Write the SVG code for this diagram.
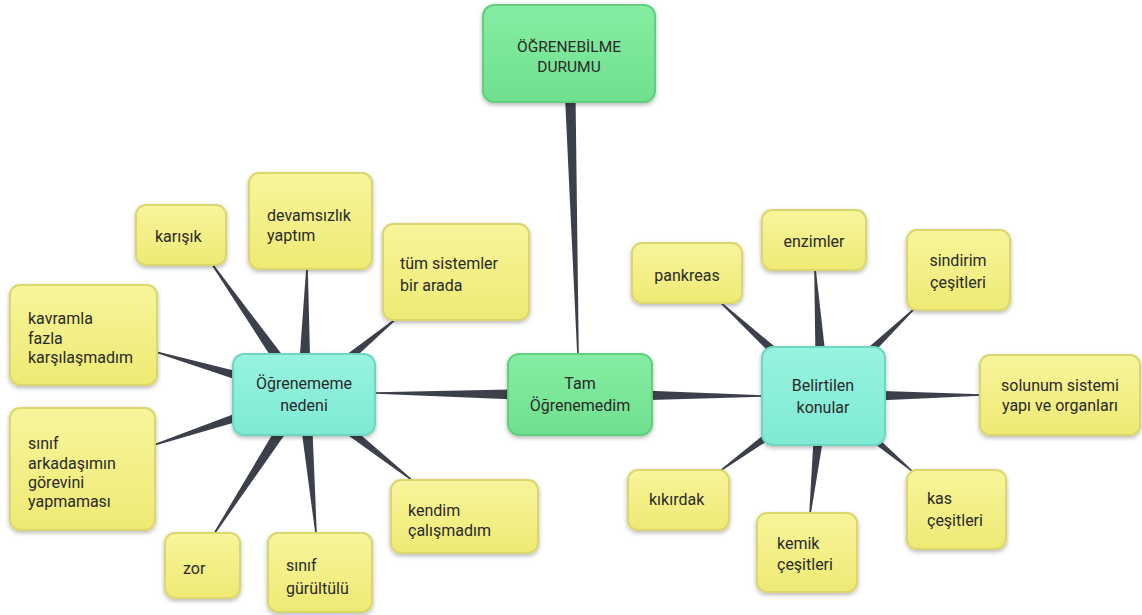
<svg xmlns="http://www.w3.org/2000/svg" width="1142" height="615" viewBox="0 0 1142 615">
  <defs>
    <filter id="shadow" x="-20%" y="-20%" width="140%" height="150%">
      <feDropShadow dx="0" dy="2" stdDeviation="2" flood-color="#000" flood-opacity="0.28"/>
    </filter>
    <linearGradient id="gYellow" x1="0" y1="0" x2="0" y2="1">
      <stop offset="0" stop-color="#f7f59b"/>
      <stop offset="1" stop-color="#eeea74"/>
    </linearGradient>
    <linearGradient id="gGreen" x1="0" y1="0" x2="0" y2="1">
      <stop offset="0" stop-color="#86eda2"/>
      <stop offset="1" stop-color="#6fe08e"/>
    </linearGradient>
    <linearGradient id="gTeal" x1="0" y1="0" x2="0" y2="1">
      <stop offset="0" stop-color="#97f3e0"/>
      <stop offset="1" stop-color="#7fead4"/>
    </linearGradient>
    <style>
      .leaf { fill: url(#gYellow); stroke: #dbd76c; stroke-width: 2; filter: url(#shadow); }
      .root { fill: url(#gGreen); stroke: #5fd07d; stroke-width: 2; filter: url(#shadow); }
      .hub { fill: url(#gTeal); stroke: #6cd8c2; stroke-width: 2; filter: url(#shadow); }
      .wedge { fill: #3c404b; }
      text { font-family: Roboto, "Liberation Sans", sans-serif; font-size: 16px; fill: #2a2a2a; }
      .c { text-anchor: middle; }
      .title { font-size: 15.5px; }
    </style>
  </defs>
  <rect width="1142" height="615" fill="#ffffff"/>

  <!-- tapered connectors: wide at the parent, thin at the child -->
  <g id="connectors">
    <polygon class="wedge" points="563,54.2 577.2,355 578.8,355 575,53.8"/>
    <polygon class="wedge" points="580,388 376,392.2 376,393.8 580,402"/>
    <polygon class="wedge" points="580,388 763,395.2 763,396.8 580,402"/>

    <polygon class="wedge" points="309.7,391.0 212.7,263.5 211.3,264.5 298.3,399.0"/>
    <polygon class="wedge" points="311,395.2 307.8,268 306.2,268 297,394.8"/>
    <polygon class="wedge" points="308.5,400.4 397.5,318.6 396.5,317.4 299.5,389.6"/>
    <polygon class="wedge" points="306.0,388.3 156.2,351.2 155.8,352.8 302.0,401.7"/>
    <polygon class="wedge" points="301.8,388.4 153.7,444.2 154.3,445.8 306.2,401.6"/>
    <polygon class="wedge" points="298.1,391.2 213.3,533.6 214.7,534.4 309.9,398.8"/>
    <polygon class="wedge" points="297.0,395.6 315.2,533.1 316.8,532.9 311.0,394.4"/>
    <polygon class="wedge" points="299.7,400.5 412.5,481.6 413.5,480.4 308.3,389.5"/>

    <polygon class="wedge" points="827.7,390.8 720.5,301.4 719.5,302.6 818.3,401.2"/>
    <polygon class="wedge" points="830.0,395.6 815.8,268.9 814.2,269.1 816.0,396.4"/>
    <polygon class="wedge" points="827.8,401.1 914.6,309.6 913.4,308.4 818.2,390.9"/>
    <polygon class="wedge" points="823,403 981,395.8 981,394.2 823,389"/>
    <polygon class="wedge" points="818.9,390.3 719.5,470.4 720.5,471.6 827.1,401.7"/>
    <polygon class="wedge" points="816.0,395.2 809.2,513.9 810.8,514.1 830.0,396.8"/>
    <polygon class="wedge" points="818.5,401.4 911.5,471.6 912.5,470.4 827.5,390.7"/>
  </g>

  <!-- root -->
  <g id="ogrenebilme-durumu">
    <rect class="root" x="483" y="5" width="172" height="97" rx="11"/>
    <text class="c title" x="569" y="52">ÖĞRENEBİLME</text>
    <text class="c title" x="569" y="72">DURUMU</text>
  </g>

  <!-- hubs -->
  <g id="tam-ogrenemedim">
    <rect class="root" x="508" y="354" width="144" height="81" rx="11"/>
    <text class="c" x="580" y="389">Tam</text>
    <text class="c" x="580" y="411">Öğrenemedim</text>
  </g>
  <g id="ogrenememe-nedeni">
    <rect class="hub" x="233" y="354" width="142" height="81" rx="11"/>
    <text class="c" x="304" y="389">Öğrenememe</text>
    <text class="c" x="304" y="411">nedeni</text>
  </g>
  <g id="belirtilen-konular">
    <rect class="hub" x="762" y="347" width="123" height="98" rx="11"/>
    <text class="c" x="823" y="391">Belirtilen</text>
    <text class="c" x="823" y="413">konular</text>
  </g>

  <!-- reasons -->
  <g id="karisik">
    <rect class="leaf" x="136" y="205" width="90" height="60" rx="10"/>
    <text x="155" y="242">karışık</text>
  </g>
  <g id="devamsizlik">
    <rect class="leaf" x="249" y="173" width="123" height="96" rx="10"/>
    <text x="267" y="221">devamsızlık</text>
    <text x="267" y="241">yaptım</text>
  </g>
  <g id="tum-sistemler">
    <rect class="leaf" x="383" y="224" width="146" height="96" rx="10"/>
    <text x="400" y="269">tüm sistemler</text>
    <text x="400" y="291">bir arada</text>
  </g>
  <g id="kavramla">
    <rect class="leaf" x="10" y="285" width="147" height="100" rx="10"/>
    <text x="28" y="324">kavramla</text>
    <text x="28" y="344">fazla</text>
    <text x="28" y="363">karşılaşmadım</text>
  </g>
  <g id="sinif-arkadasimin">
    <rect class="leaf" x="10" y="408" width="145" height="122" rx="10"/>
    <text x="28" y="449">sınıf</text>
    <text x="28" y="469">arkadaşımın</text>
    <text x="28" y="488">görevini</text>
    <text x="28" y="507">yapmaması</text>
  </g>
  <g id="zor">
    <rect class="leaf" x="165" y="533" width="75" height="65" rx="10"/>
    <text x="183" y="574">zor</text>
  </g>
  <g id="sinif-gurultulu">
    <rect class="leaf" x="268" y="533" width="104" height="79" rx="10"/>
    <text x="286" y="571">sınıf</text>
    <text x="286" y="594">gürültülü</text>
  </g>
  <g id="kendim-calismadim">
    <rect class="leaf" x="391" y="480" width="147" height="73" rx="10"/>
    <text x="408" y="516">kendim</text>
    <text x="408" y="536">çalışmadım</text>
  </g>

  <!-- topics -->
  <g id="pankreas">
    <rect class="leaf" x="632" y="243" width="110" height="60" rx="10"/>
    <text class="c" x="687" y="281">pankreas</text>
  </g>
  <g id="enzimler">
    <rect class="leaf" x="762" y="210" width="104" height="60" rx="10"/>
    <text class="c" x="814" y="247">enzimler</text>
  </g>
  <g id="sindirim">
    <rect class="leaf" x="907" y="230" width="103" height="80" rx="10"/>
    <text class="c" x="958" y="266">sindirim</text>
    <text class="c" x="958" y="288">çeşitleri</text>
  </g>
  <g id="solunum">
    <rect class="leaf" x="980" y="355" width="160" height="80" rx="10"/>
    <text class="c" x="1060" y="391">solunum sistemi</text>
    <text class="c" x="1060" y="411">yapı ve organları</text>
  </g>
  <g id="kikirdak">
    <rect class="leaf" x="628" y="470" width="101" height="60" rx="10"/>
    <text x="649" y="505">kıkırdak</text>
  </g>
  <g id="kemik">
    <rect class="leaf" x="757" y="513" width="100" height="79" rx="10"/>
    <text x="777" y="549">kemik</text>
    <text x="777" y="570">çeşitleri</text>
  </g>
  <g id="kas">
    <rect class="leaf" x="907" y="470" width="99" height="79" rx="10"/>
    <text x="927" y="504">kas</text>
    <text x="927" y="526">çeşitleri</text>
  </g>
</svg>
